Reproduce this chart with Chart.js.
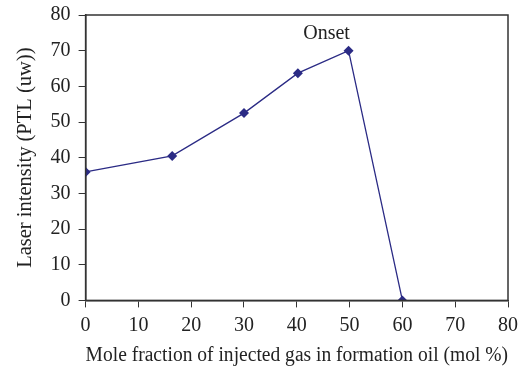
<!DOCTYPE html>
<html>
<head>
<meta charset="utf-8">
<script src="https://cdn.jsdelivr.net/npm/chart.js@4.4.0/dist/chart.umd.min.js"></script>
<style>
  body { margin: 0; background: #fff; }
</style>
</head>
<body>
<canvas id="chart" width="530" height="368"></canvas>
<script>
// mole fraction (mol %) vs laser intensity (uw)
var moleFraction = [0, 16.4, 30, 40.2, 49.8, 60];
var intensity = [36, 40.5, 52.5, 63.7, 70, 0];
var xTicks = [0, 10, 20, 30, 40, 50, 60, 70, 80];
var yTicks = [0, 10, 20, 30, 40, 50, 60, 70, 80];
var onsetIndex = 4;

var points = [];
for (var i = 0; i < moleFraction.length; i++) {
    points.push({x: moleFraction[i], y: intensity[i]});
}

var axisColor = '#333333';
var navy = '#2b2b85';

// box around the plot + "Onset" label
var frame = {
    id: 'frame',
    afterDraw: function(chart) {
        var ctx = chart.ctx, a = chart.chartArea;
        ctx.save();
        ctx.strokeStyle = axisColor;
        ctx.lineWidth = 1.5;
        ctx.strokeRect(a.left, a.top, a.right - a.left, a.bottom - a.top);
        var px = chart.scales.x.getPixelForValue(moleFraction[onsetIndex]);
        var py = chart.scales.y.getPixelForValue(intensity[onsetIndex]);
        ctx.fillStyle = '#222';
        ctx.font = '20px "Liberation Serif"';
        ctx.textAlign = 'center';
        ctx.textBaseline = 'middle';
        ctx.fillText('Onset', px - 22, py - 17);
        ctx.restore();
    }
};

Chart.defaults.font.family = '"Liberation Serif", serif';
Chart.defaults.color = '#222';

new Chart(document.getElementById('chart'), {
    type: 'scatter',
    data: {
        datasets: [{
            data: points,
            showLine: true,
            borderColor: navy,
            borderWidth: 1.3,
            backgroundColor: navy,
            pointStyle: 'rectRot',
            pointRadius: 5,
            pointBorderWidth: 0
        }]
    },
    options: {
        responsive: false,
        animation: false,
        layout: { padding: { left: 9, right: 22, top: 0, bottom: 0 } },
        plugins: { legend: { display: false }, tooltip: { enabled: false } },
        scales: {
            x: {
                type: 'linear', min: 0, max: 80,
                afterBuildTicks: function(s) { s.ticks = xTicks.map(function(v) { return {value: v}; }); },
                grid: { drawOnChartArea: false, tickLength: 7, color: axisColor },
                border: { color: axisColor, width: 1.5 },
                ticks: { font: { size: 20 }, padding: 6 },
                title: { display: true, text: 'Mole fraction of injected gas in formation oil (mol %)', font: { size: 20.5 }, padding: { top: 0, bottom: 0 } }
            },
            y: {
                type: 'linear', min: 0, max: 80,
                afterBuildTicks: function(s) { s.ticks = yTicks.map(function(v) { return {value: v}; }); },
                afterFit: function(s) { s.paddingTop = 15; s.paddingBottom = 12; },
                grid: { drawOnChartArea: false, tickLength: 7, color: axisColor },
                border: { color: axisColor, width: 1.5 },
                ticks: { font: { size: 20 }, padding: 8 },
                title: { display: true, text: 'Laser intensity (PTL (uw))', font: { size: 20.5 }, padding: { bottom: 5 } }
            }
        }
    },
    plugins: [frame]
});
</script>
</body>
</html>
